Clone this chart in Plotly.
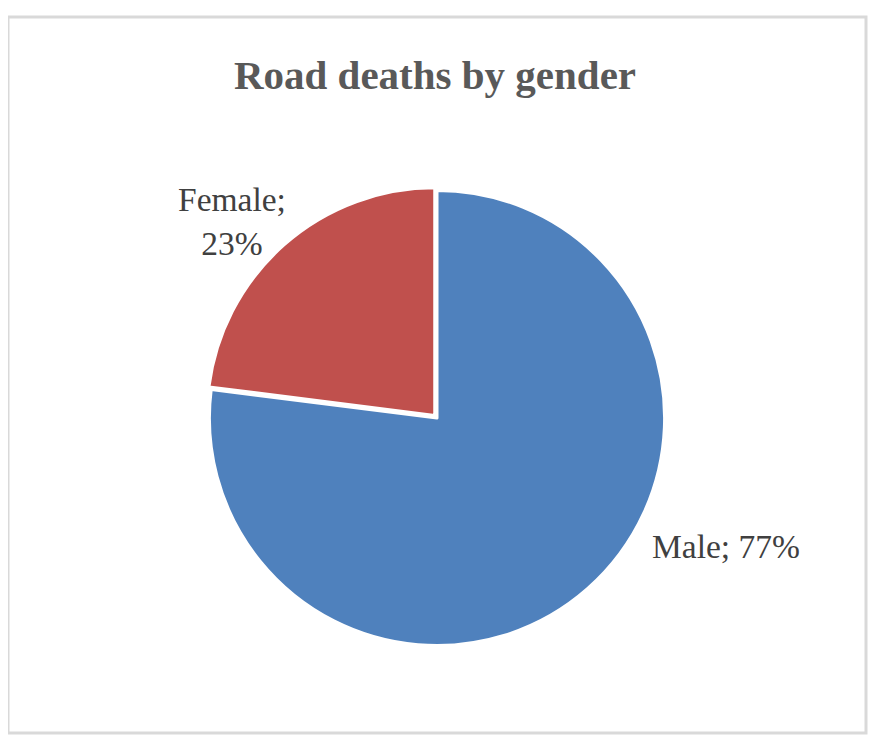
import plotly.graph_objects as go

# data
labels = ["Male", "Female"]
values = [77, 23]
colors = ["#4F81BD", "#C0504D"]

W, H = 879, 755
OFF = 8  # page body margin shifts the figure by this much


def px(x):
    return (x - OFF) / W


def py(y):
    return (H - (y - OFF)) / H


fig = go.Figure()

fig.add_trace(go.Pie(
    labels=labels,
    values=values,
    sort=False,
    direction="clockwise",
    rotation=0,
    marker=dict(colors=colors, line=dict(color="white", width=3)),
    pull=[0, 0.015],
    textinfo="none",
    hoverinfo="label+percent",
    showlegend=False,
    domain=dict(x=[px(437 - 231), px(437 + 231)],
                y=[py(418 + 231), py(418 - 231)]),
))

# labels placed like the original (outside, free position)
label_pos = {"Male": (726, 546), "Female": (232, 221)}
total = sum(values)
for lab, val in zip(labels, values):
    pct = round(100 * val / total)
    txt = f"{lab}; {pct}%" if lab == "Male" else f"{lab};<br>{pct}%"
    x, y = label_pos[lab]
    fig.add_annotation(
        x=px(x), y=py(y), xref="paper", yref="paper",
        text=txt, showarrow=False, xanchor="center", yanchor="middle",
        font=dict(family="Liberation Serif", size=33.5, color="#404040"),
    )

# chart frame
fig.add_shape(type="rect", xref="paper", yref="paper",
              x0=px(8), x1=px(866), y0=py(733), y1=py(17),
              line=dict(color="#d9d9d9", width=3))

fig.update_layout(
    title=dict(text="<b>Road deaths by gender</b>", x=px(435), xanchor="center",
               y=py(75), yanchor="middle",
               font=dict(family="Liberation Serif", size=41, color="#595959")),
    width=W,
    height=H,
    margin=dict(l=0, r=0, t=0, b=0),
    paper_bgcolor="white",
    plot_bgcolor="white",
)

fig.write_html("out.html")
